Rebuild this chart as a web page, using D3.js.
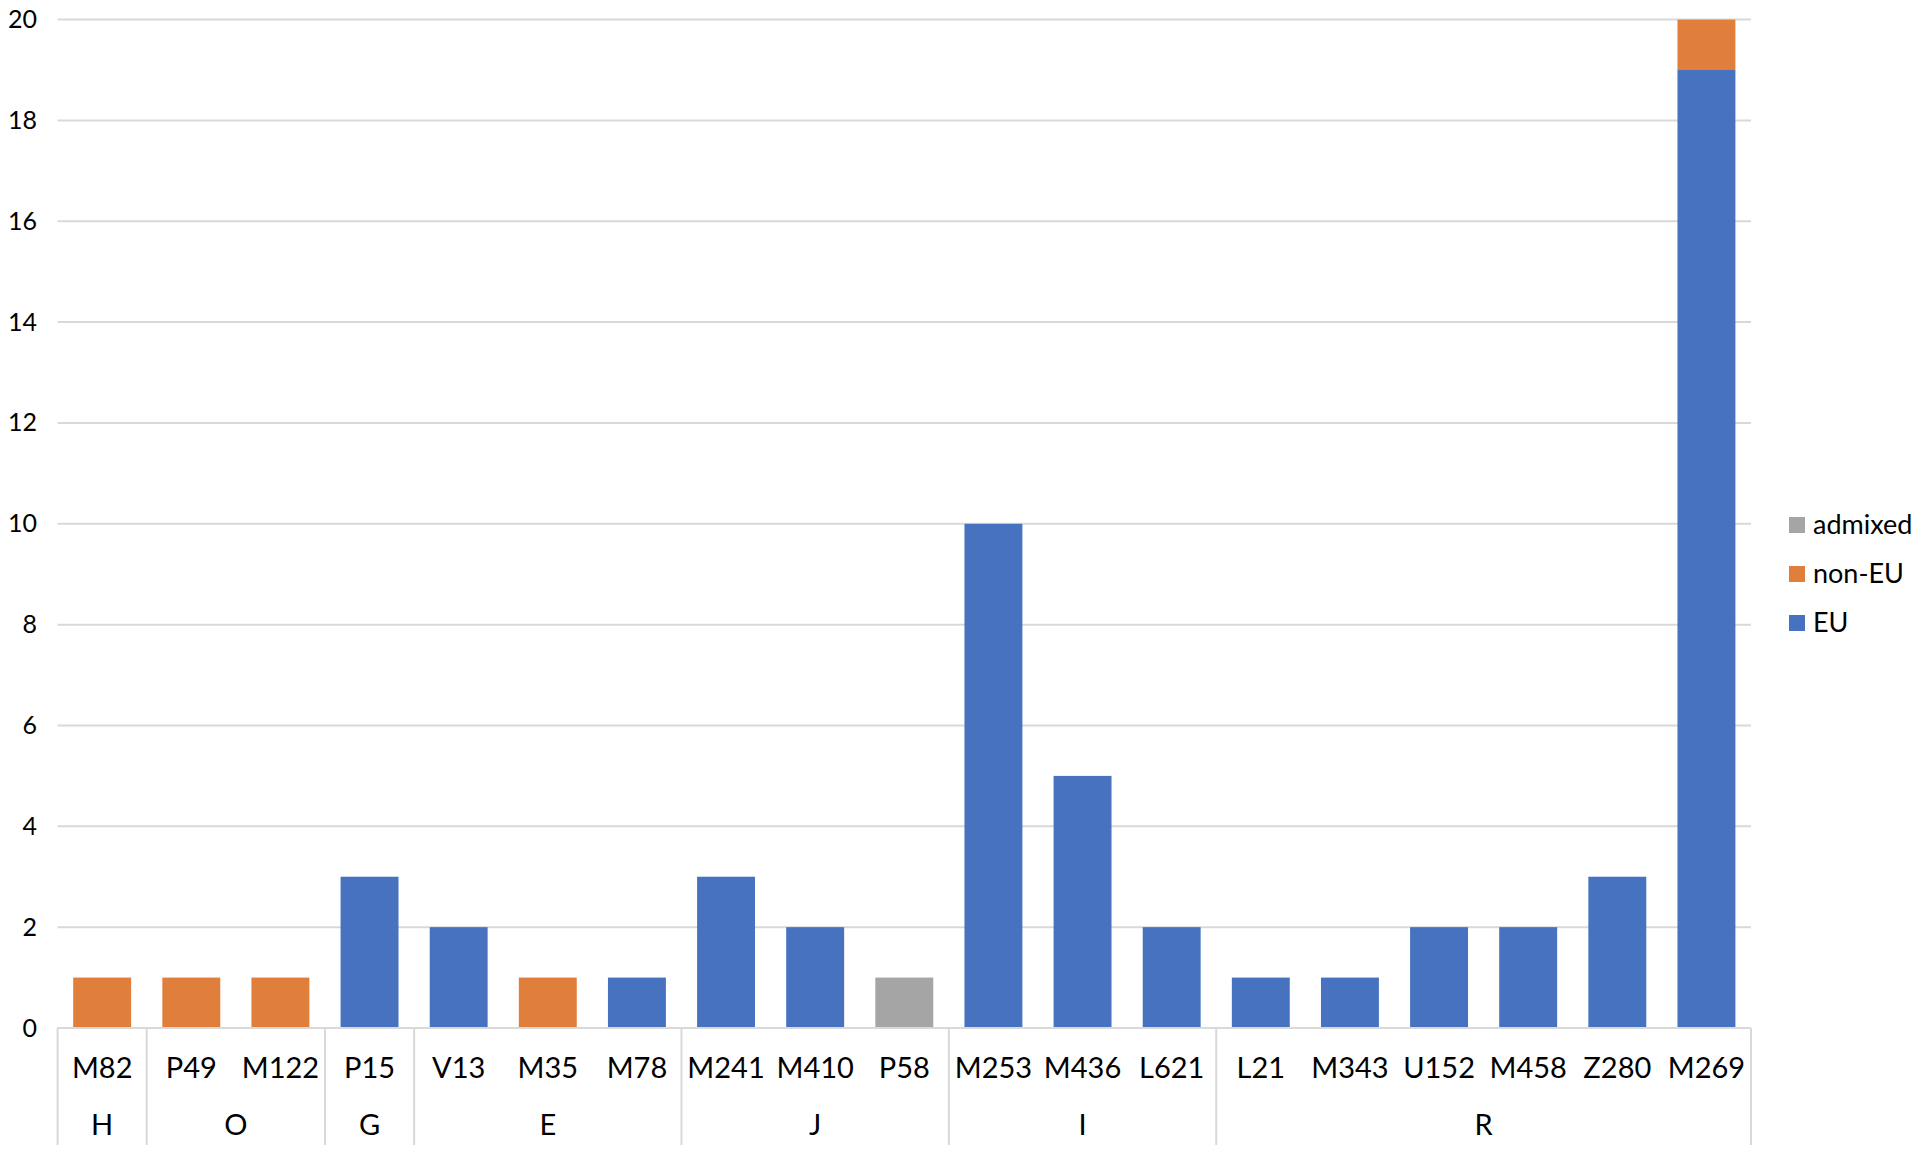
<!DOCTYPE html>
<html>
<head>
<meta charset="utf-8">
<script src="https://cdn.jsdelivr.net/npm/d3@7"></script>
<style>
  body { margin: 0; background: #fff; }
  svg { display: block; font-family: Lato, 'Open Sans', sans-serif; }
</style>
</head>
<body>
<svg id="chart"></svg>
<script>
// categories (markers) and the haplogroup each one belongs to
const categories = ['M82', 'P49', 'M122', 'P15', 'V13', 'M35', 'M78', 'M241', 'M410', 'P58',
  'M253', 'M436', 'L621', 'L21', 'M343', 'U152', 'M458', 'Z280', 'M269'];
const groupOf = ['H', 'O', 'O', 'G', 'E', 'E', 'E', 'J', 'J', 'J',
  'I', 'I', 'I', 'R', 'R', 'R', 'R', 'R', 'R'];

// series values
const euValues = [0, 0, 0, 3, 2, 0, 1, 3, 2, 0, 10, 5, 2, 1, 1, 2, 2, 3, 19];
const nonEuValues = [1, 1, 1, 0, 0, 1, 0, 0, 0, 0, 0, 0, 0, 0, 0, 0, 0, 0, 1];
const admixedValues = [0, 0, 0, 0, 0, 0, 0, 0, 0, 1, 0, 0, 0, 0, 0, 0, 0, 0, 0];

const yTicks = [0, 2, 4, 6, 8, 10, 12, 14, 16, 18, 20];

const seriesNames = ['EU', 'non-EU', 'admixed'];
const colors = { 'EU': '#4672C0', 'non-EU': '#E07E3C', 'admixed': '#A5A5A5' };

const w = 1923;
const h = 1154;
const plotLeft = 57.6;   // plot left
const plotRight = 1751;  // plot right
const plotTop = 19.6;    // y = 20
const base = 1028;       // y = 0
const gridColor = '#d9d9d9';

const svg = d3.select('#chart').attr('width', w).attr('height', h);

const xScale = d3.scaleBand()
  .domain(categories)
  .range([plotLeft, plotRight])
  .paddingInner(0.35)
  .paddingOuter(0.175);
const yScale = d3.scaleLinear().domain([0, 20]).range([base, plotTop]);

// table for the stack
const table = categories.map((c, i) => ({
  cat: c,
  'EU': euValues[i],
  'non-EU': nonEuValues[i],
  'admixed': admixedValues[i],
}));
const stacked = d3.stack().keys(seriesNames)(table);

// gridlines
svg.append('g')
  .selectAll('line')
  .data(yTicks)
  .enter()
  .append('line')
  .attr('x1', plotLeft)
  .attr('x2', plotRight)
  .attr('y1', (d) => yScale(d))
  .attr('y2', (d) => yScale(d))
  .attr('stroke', gridColor)
  .attr('stroke-width', 2);

// y axis labels (no line)
const yAxis = d3.axisLeft(yScale).tickValues(yTicks).tickSize(0).tickPadding(0);
const yG = svg.append('g')
  .attr('transform', 'translate(37,0)')
  .call(yAxis);
yG.select('.domain').remove();
yG.selectAll('text')
  .attr('font-size', 25)
  .attr('font-family', 'Lato, sans-serif')
  .attr('fill', '#000');

// bars
svg.append('g')
  .selectAll('g')
  .data(stacked)
  .enter()
  .append('g')
  .attr('fill', (s) => colors[s.key])
  .selectAll('rect')
  .data((s) => s)
  .enter()
  .append('rect')
  .attr('x', (d) => xScale(d.data.cat))
  .attr('width', xScale.bandwidth())
  .attr('y', (d) => yScale(d[1]))
  .attr('height', (d) => yScale(d[0]) - yScale(d[1]));

// x axis: category labels
const xAxis = d3.axisBottom(xScale).tickSize(0).tickPadding(0);
const xG = svg.append('g')
  .attr('transform', 'translate(0,' + base + ')')
  .call(xAxis);
xG.select('.domain').remove();
xG.selectAll('text')
  .attr('y', 40)
  .attr('dy', '0.35em')
  .attr('font-size', 29)
  .attr('font-family', 'Lato, sans-serif')
  .attr('fill', '#000');

// axis base line
svg.append('line')
  .attr('x1', plotLeft).attr('x2', plotRight)
  .attr('y1', base).attr('y2', base)
  .attr('stroke', gridColor).attr('stroke-width', 2);

// group spans
const half = xScale.step() * xScale.paddingInner() / 2;
const groups = [];
groupOf.forEach((g, i) => {
  const last = groups[groups.length - 1];
  if (last && last.name === g) last.end = categories[i];
  else groups.push({ name: g, start: categories[i], end: categories[i] });
});
groups.forEach((g) => {
  g.x0 = xScale(g.start) - half;
  g.x1 = xScale(g.end) + xScale.bandwidth() + half;
});

const sepBottom = 1145;
const bounds = [plotLeft].concat(groups.map((g) => Math.min(g.x1, plotRight)));
svg.append('g')
  .selectAll('line')
  .data(bounds)
  .enter()
  .append('line')
  .attr('x1', (d) => d)
  .attr('x2', (d) => d)
  .attr('y1', base)
  .attr('y2', sepBottom)
  .attr('stroke', gridColor)
  .attr('stroke-width', 2);

svg.append('g')
  .selectAll('text')
  .data(groups)
  .enter()
  .append('text')
  .attr('x', (g) => (g.x0 + g.x1) / 2)
  .attr('y', 1125)
  .attr('dy', '0.35em')
  .attr('text-anchor', 'middle')
  .attr('font-size', 29)
  .attr('fill', '#000')
  .text((g) => g.name);

// legend (top to bottom: admixed, non-EU, EU)
const legendItems = seriesNames.slice().reverse();
const legend = svg.append('g')
  .selectAll('g')
  .data(legendItems)
  .enter()
  .append('g')
  .attr('transform', (d, i) => 'translate(1789,' + (525 + i * 49) + ')');
legend.append('rect')
  .attr('x', 0).attr('y', -8)
  .attr('width', 16).attr('height', 16)
  .attr('fill', (d) => colors[d]);
legend.append('text')
  .attr('x', 24)
  .attr('dy', '0.35em')
  .attr('font-size', 27)
  .attr('fill', '#000')
  .text((d) => d);
</script>
</body>
</html>
